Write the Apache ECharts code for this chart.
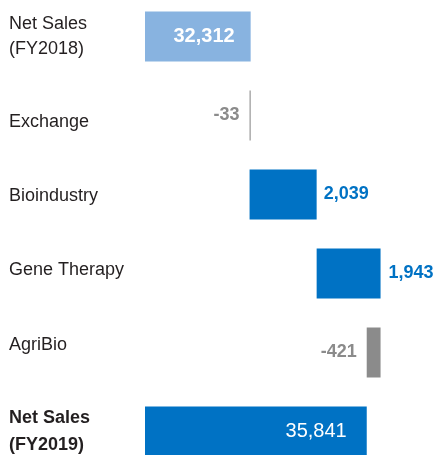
<!DOCTYPE html>
<html>
<head>
<meta charset="utf-8">
<script src="https://cdn.jsdelivr.net/npm/echarts@6/dist/echarts.min.js"></script>
<style>
  html, body { margin: 0; padding: 0; background: #fff; }
  #chart { width: 436px; height: 455px; }
</style>
</head>
<body>
<div id="chart"></div>
<script>
const categories = ['Net Sales\n(FY2018)', 'Exchange', 'Bioindustry', 'Gene Therapy', 'AgriBio', 'Net Sales\n(FY2019)'];
const startTotal = 32312;
const changes = [-33, 2039, 1943, -421];
const endTotal = 35841;

// waterfall: transparent base + visible part
const base = [0];
const size = [startTotal];
const signed = [startTotal];
let running = startTotal;
changes.forEach((c) => {
  if (c < 0) {
    base.push(running + c);
    size.push(-c);
  } else {
    base.push(running);
    size.push(c);
  }
  signed.push(c);
  running += c;
});
base.push(0);
size.push(endTotal);
signed.push(endTotal);

const FONT = '"Liberation Sans", Arial, Helvetica, sans-serif';
const BLUE = '#0072c4';
const GREY = '#8b8b8b';
const LIGHT = '#88b3e0';

const barColors = [LIGHT, GREY, BLUE, BLUE, GREY, BLUE];
const labelCfg = [
  {position: 'insideRight', distance: 16, color: '#fff', fontWeight: 'bold', fontSize: 20},
  {position: 'left', distance: 10, color: GREY, fontWeight: 'bold', fontSize: 18},
  {position: 'right', distance: 7, color: BLUE, fontWeight: 'bold', fontSize: 18},
  {position: 'right', distance: 8, color: BLUE, fontWeight: 'bold', fontSize: 18},
  {position: 'left', distance: 10, color: GREY, fontWeight: 'bold', fontSize: 18},
  {position: 'insideRight', distance: 20, color: '#fff', fontWeight: 'normal', fontSize: 20}
];

const myChart = echarts.init(document.getElementById('chart'));
myChart.setOption({
  animation: false,
  grid: {left: 145, width: 250, top: -3, bottom: -16, containLabel: false, outerBoundsMode: 'none'},
  xAxis: {
    type: 'value',
    min: 29100,
    max: 36700,
    show: false
  },
  yAxis: {
    type: 'category',
    inverse: true,
    data: categories,
    axisLine: {show: false},
    axisTick: {show: false},
    splitLine: {show: false},
    axisLabel: {
      align: 'left',
      margin: 136,
      color: '#231f20',
      fontSize: 18,
      fontFamily: FONT,
      formatter: (v, i) => v.split('\n').map((l) => '{c' + i + '|' + l + '}').join('\n'),
      rich: {
        c0: {lineHeight: 25},
        c1: {padding: [13, 0, 0, 0]},
        c2: {padding: [3, 0, 0, 0]},
        c3: {padding: [0, 0, 6, 0]},
        c4: {padding: [0, 0, 14, 0]},
        c5: {lineHeight: 27, fontWeight: 'bold'}
      }
    }
  },
  series: [
    {
      type: 'bar',
      stack: 'w',
      barWidth: 50,
      itemStyle: {color: 'transparent'},
      silent: true,
      data: base
    },
    {
      type: 'bar',
      stack: 'w',
      barWidth: 50,
      data: size.map((v, i) => ({
        value: v,
        itemStyle: {color: barColors[i]},
        label: Object.assign({show: true, fontFamily: FONT}, labelCfg[i])
      })),
      label: {
        formatter: (p) => signed[p.dataIndex].toLocaleString('en-US')
      }
    }
  ]
});
</script>
</body>
</html>
